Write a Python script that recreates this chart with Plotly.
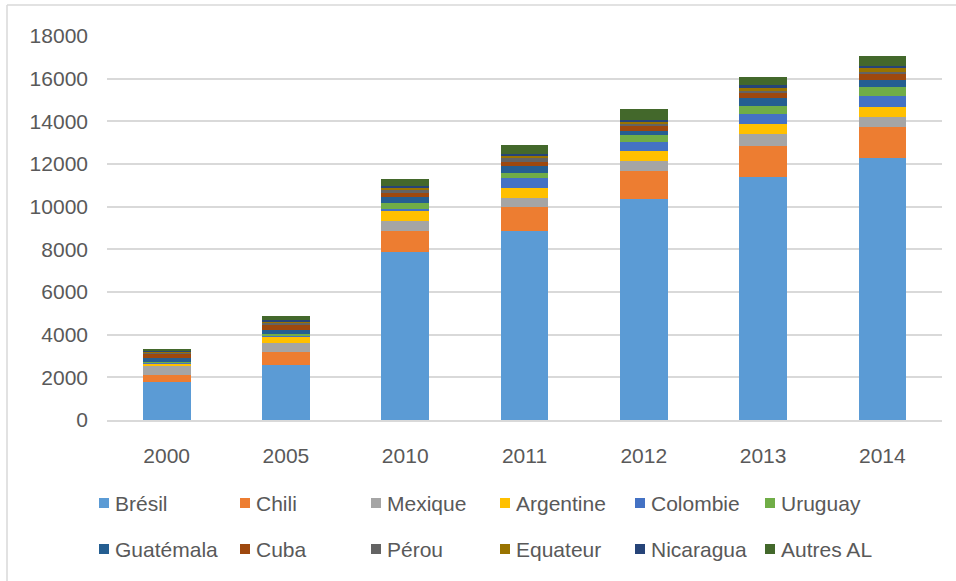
import plotly.graph_objects as go

# Years on the category axis
years = ["2000", "2005", "2010", "2011", "2012", "2013", "2014"]

# Values per country, one list per series (same order as years)
bresil = [1800, 2580, 7860, 8880, 10365, 11400, 12300]
chili = [300, 600, 1020, 1085, 1285, 1450, 1435]
mexique = [440, 440, 425, 425, 470, 535, 490]
argentine = [110, 300, 535, 490, 485, 485, 470]
colombie = [60, 60, 65, 470, 435, 485, 485]
uruguay = [30, 50, 250, 250, 300, 360, 435]
guatemala = [180, 170, 285, 300, 215, 360, 345]
cuba = [190, 250, 220, 205, 220, 260, 260]
perou = [60, 110, 140, 190, 95, 95, 110]
equateur = [20, 30, 80, 60, 95, 125, 170]
nicaragua = [60, 120, 95, 110, 95, 125, 110]
autres = [90, 170, 315, 410, 515, 420, 440]

series_names = ["Brésil", "Chili", "Mexique", "Argentine", "Colombie", "Uruguay",
                "Guatémala", "Cuba", "Pérou", "Equateur", "Nicaragua", "Autres AL"]
series_values = [bresil, chili, mexique, argentine, colombie, uruguay,
                 guatemala, cuba, perou, equateur, nicaragua, autres]
series_colors = ["#5B9BD5", "#ED7D31", "#A5A5A5", "#FFC000", "#4472C4", "#70AD47",
                 "#255E91", "#9E480E", "#636363", "#997300", "#264478", "#43682B"]

y_ticks = list(range(0, 18001, 2000))
y_tick_labels = [str(v) for v in y_ticks]

W, H = 956, 581
L, R, T, B = 107, 14, 36, 161
PW, PH = W - L - R, H - T - B
FONT = "Liberation Sans, Arial, sans-serif"
TXT = "#595959"


def px_x(px):
    return (px - L) / PW


def px_y(py):
    return (T + PH - py) / PH


fig = go.Figure()
for name, vals, col in zip(series_names, series_values, series_colors):
    fig.add_trace(go.Bar(x=years, y=vals, name=name, marker_color=col,
                         marker_line_width=0, showlegend=False))

# Legend drawn as two rows of swatches + labels
legend_cols = [115, 256, 387, 516, 651, 781]
legend_rows = [503, 549]
shapes = []
annotations = []
for i, (name, col) in enumerate(zip(series_names, series_colors)):
    tx = legend_cols[i % 6]
    ty = legend_rows[i // 6]
    shapes.append(dict(type="rect", xref="paper", yref="paper",
                       x0=px_x(tx - 16), x1=px_x(tx - 6),
                       y0=px_y(ty + 5), y1=px_y(ty - 5),
                       fillcolor=col, line_width=0))
    annotations.append(dict(text=name, xref="paper", yref="paper",
                            x=px_x(tx - 2), y=px_y(ty), xanchor="left", yanchor="middle",
                            showarrow=False, font=dict(family=FONT, size=21, color=TXT)))

# Chart frame (left and top edges)
shapes.append(dict(type="line", xref="paper", yref="paper",
                   x0=px_x(7), x1=px_x(7), y0=px_y(5), y1=px_y(600),
                   line=dict(color="#D9D9D9", width=1.5)))
shapes.append(dict(type="line", xref="paper", yref="paper",
                   x0=px_x(7), x1=px_x(970), y0=px_y(5), y1=px_y(5),
                   line=dict(color="#D9D9D9", width=1.5)))

fig.update_layout(
    width=W, height=H,
    margin=dict(l=L, r=R, t=T, b=B, pad=0),
    barmode="stack", bargap=0.6,
    plot_bgcolor="white", paper_bgcolor="white",
    font=dict(family=FONT, size=21, color=TXT),
    shapes=shapes, annotations=annotations,
    xaxis=dict(type="category", showgrid=False, showline=True, linecolor="#D9D9D9",
               linewidth=1.5, ticks="", ticklabelstandoff=16,
               tickfont=dict(family=FONT, size=21, color=TXT)),
    yaxis=dict(range=[0, 18000], tickvals=y_ticks, ticktext=y_tick_labels,
               showgrid=True, gridcolor="#D9D9D9",
               gridwidth=1.5, zeroline=False, showline=False, ticks="",
               ticklabelstandoff=18, tickfont=dict(family=FONT, size=21, color=TXT)),
)

fig.write_html("out.html")
